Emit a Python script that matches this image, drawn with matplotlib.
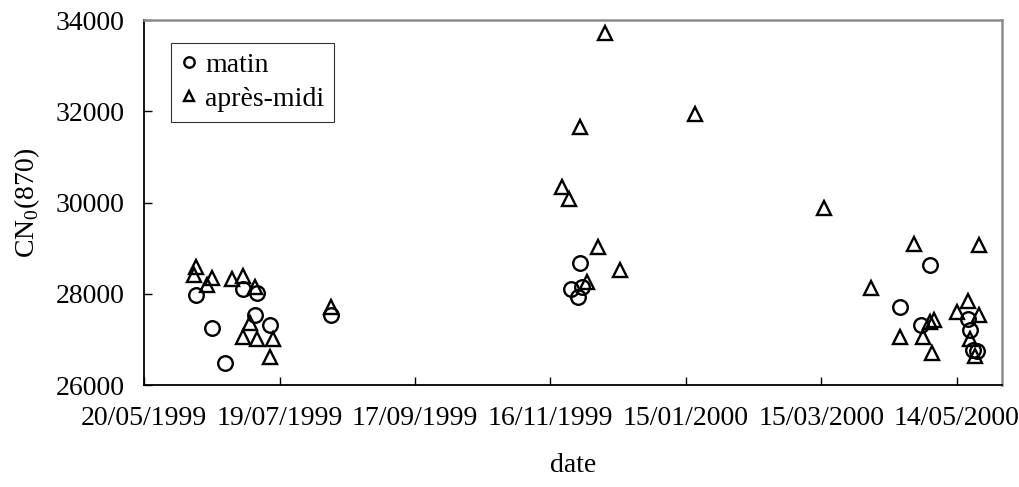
import matplotlib
matplotlib.use("Agg")
import matplotlib.pyplot as plt
import matplotlib.dates as mdates
from matplotlib.lines import Line2D
import pandas as pd

plt.rcParams["font.family"] = ["Liberation Serif", "DejaVu Serif"]
plt.rcParams["mathtext.fontset"] = "custom"
plt.rcParams["mathtext.rm"] = "Liberation Serif"

# matin (circles)
matin_dates = ["12/06/1999", "19/06/1999", "25/06/1999", "03/07/1999", "08/07/1999",
               "09/07/1999", "15/07/1999", "11/08/1999", "25/11/1999", "28/11/1999",
               "29/11/1999", "30/11/1999", "19/04/2000", "28/04/2000", "02/05/2000",
               "19/05/2000", "20/05/2000", "21/05/2000", "23/05/2000"]
matin_vals = [27980, 27250, 26480, 28100, 27530,
              28020, 27310, 27530, 28100, 27930,
              28680, 28150, 27700, 27320, 28620,
              27440, 27210, 26760, 26750]

# apres-midi (triangles)
am_dates = ["12/06/1999", "11/06/1999", "17/06/1999", "19/06/1999", "28/06/1999",
            "03/07/1999", "08/07/1999", "06/07/1999", "03/07/1999", "09/07/1999",
            "16/07/1999", "15/07/1999", "11/08/1999", "21/11/1999", "24/11/1999",
            "29/11/1999", "10/12/1999", "07/12/1999", "17/12/1999", "02/12/1999",
            "19/01/2000", "16/03/2000", "06/04/2000", "19/04/2000", "25/04/2000",
            "29/04/2000", "02/05/2000", "04/05/2000", "03/05/2000", "14/05/2000",
            "19/05/2000", "24/05/2000", "20/05/2000", "22/05/2000", "24/05/2000"]
am_vals = [28590, 28410, 28190, 28350, 28320,
           28380, 28150, 27370, 27050, 27010,
           27000, 26620, 27720, 30340, 30080,
           31650, 33720, 29030, 28520, 28260,
           31950, 29880, 28120, 27050, 29090,
           27050, 27390, 27420, 26700, 27600,
           27850, 27540, 27000, 26630, 29070]

tick_dates = ["20/05/1999", "19/07/1999", "17/09/1999", "16/11/1999",
              "15/01/2000", "15/03/2000", "14/05/2000"]
x_min, x_max = "20/05/1999", "03/06/2000"

md = pd.to_datetime(matin_dates, format="%d/%m/%Y")
ad = pd.to_datetime(am_dates, format="%d/%m/%Y")
td = pd.to_datetime(tick_dates, format="%d/%m/%Y")

fig = plt.figure(figsize=(10.2, 4.87), dpi=100)
ax = fig.add_axes([0.1412, 0.2094, 0.8412, 0.7495])

ax.plot(md, matin_vals, linestyle="none", marker="o", markersize=10.5,
        markerfacecolor="none", markeredgecolor="black", markeredgewidth=1.7)
ax.plot(ad, am_vals, linestyle="none", marker="^", markersize=10.5,
        markerfacecolor="none", markeredgecolor="black", markeredgewidth=1.7)

ax.set_xlim(pd.to_datetime(x_min, format="%d/%m/%Y"), pd.to_datetime(x_max, format="%d/%m/%Y"))
ax.set_ylim(26000, 34000)
ax.set_yticks([26000, 28000, 30000, 32000, 34000])
ax.set_xticks(td)
ax.xaxis.set_major_formatter(mdates.DateFormatter("%d/%m/%Y"))

ax.tick_params(direction="in", length=6, width=1, labelsize=20)
ax.tick_params(axis="y", pad=14)
ax.tick_params(axis="x", pad=15)
for s in ["left", "bottom"]:
    ax.spines[s].set_color("black")
    ax.spines[s].set_linewidth(1.3)
for s in ["top", "right"]:
    ax.spines[s].set_color("#8c8c8c")
    ax.spines[s].set_linewidth(1.8)

ax.set_xlabel("date", fontsize=20, labelpad=16)
ax.set_ylabel(r"CN$_\mathregular{0}$(870)", fontsize=20, labelpad=10)

handles = [
    Line2D([], [], linestyle="none", marker="o", markersize=7.5, markerfacecolor="none",
           markeredgecolor="black", markeredgewidth=1.7),
    Line2D([], [], linestyle="none", marker="^", markersize=7.5, markerfacecolor="none",
           markeredgecolor="black", markeredgewidth=1.7),
]
leg = ax.legend(handles, ["matin", "après-midi"], loc="upper left",
                bbox_to_anchor=(0.031, 0.937), fontsize=20, frameon=True, fancybox=False,
                handlelength=0.6, handletextpad=0.3, borderpad=0.35, labelspacing=0.3,
                borderaxespad=0)
leg.get_frame().set_edgecolor("black")
leg.get_frame().set_linewidth(0.8)

fig.savefig("out.png", dpi=100)
